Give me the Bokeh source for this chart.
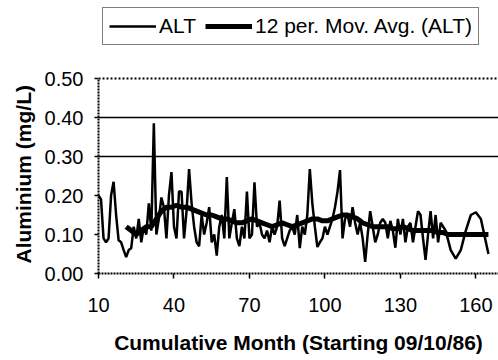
from bokeh.plotting import figure
from bokeh.models import Legend, LegendItem, Span, FixedTicker, NumeralTickFormatter, Range1d, Title
from bokeh.embed import file_html
from bokeh.resources import INLINE

# ALT monthly aluminium values (mg/L)
alt_month = list(range(10, 148)) + [148, 150, 152, 154, 156, 158, 160, 162, 164, 165]
alt_value = [
    0.20, 0.19, 0.09, 0.08, 0.09, 0.20, 0.235, 0.15, 0.085, 0.08,   # 10-19
    0.06, 0.042, 0.06, 0.065, 0.12, 0.09, 0.14, 0.08, 0.12, 0.10,   # 20-29
    0.18, 0.11, 0.385, 0.10, 0.14, 0.195, 0.17, 0.09, 0.20, 0.26,   # 30-39
    0.12, 0.09, 0.21, 0.21, 0.09, 0.16, 0.268, 0.18, 0.12, 0.08,    # 40-49
    0.07, 0.15, 0.10, 0.13, 0.17, 0.08, 0.10, 0.046, 0.12, 0.15,    # 50-59
    0.09, 0.247, 0.09, 0.13, 0.165, 0.09, 0.07, 0.12, 0.09, 0.21,   # 60-69
    0.09, 0.10, 0.234, 0.12, 0.13, 0.10, 0.09, 0.11, 0.08, 0.12,    # 70-79
    0.10, 0.12, 0.187, 0.09, 0.07, 0.09, 0.11, 0.12, 0.10, 0.15,    # 80-89
    0.065, 0.12, 0.10, 0.15, 0.268, 0.18, 0.12, 0.068, 0.08, 0.09,  # 90-99
    0.12, 0.10, 0.12, 0.14, 0.17, 0.21, 0.265, 0.09, 0.14, 0.15,    # 100-109
    0.12, 0.17, 0.13, 0.10, 0.13, 0.09, 0.03, 0.10, 0.16, 0.12,     # 110-119
    0.08, 0.10, 0.13, 0.14, 0.13, 0.09, 0.135, 0.11, 0.066, 0.14,   # 120-129
    0.10, 0.14, 0.08, 0.12, 0.13, 0.08, 0.12, 0.16, 0.15, 0.09,     # 130-139
    0.035, 0.10, 0.16, 0.09, 0.15, 0.08, 0.13, 0.12,                # 140-147
    0.11, 0.06, 0.038, 0.06, 0.11, 0.15, 0.157, 0.14, 0.08, 0.05,   # 148-165
]

# 12 period moving average
ma_month = list(range(21, 166, 2))
ma_value = [
    0.12, 0.11, 0.10, 0.11, 0.12, 0.12, 0.14, 0.16, 0.17, 0.17,
    0.175, 0.17, 0.17, 0.165, 0.16, 0.155, 0.15, 0.15, 0.145, 0.14,
    0.14, 0.135, 0.13, 0.13, 0.135, 0.14, 0.135, 0.13, 0.125, 0.12,
    0.125, 0.13, 0.125, 0.12, 0.125, 0.13, 0.135, 0.14, 0.14, 0.135,
    0.135, 0.14, 0.145, 0.15, 0.15, 0.145, 0.14, 0.13, 0.125, 0.12,
    0.12, 0.12, 0.12, 0.115, 0.115, 0.12, 0.115, 0.11, 0.11, 0.11,
    0.11, 0.11, 0.105, 0.105, 0.10, 0.10, 0.10, 0.10, 0.10, 0.10,
    0.10, 0.10, 0.10,
]

x_ticks = [10, 40, 70, 100, 130, 160]
y_ticks = [0.0, 0.1, 0.2, 0.3, 0.4, 0.5]
grid_levels = [0.3, 0.4]
top_level = 0.5

FONT = "Liberation Sans"

# frame reaches up to the top of the page so the legend can sit above the 0.50 line
p = figure(width=498, height=360, output_backend="svg", toolbar_location=None,
           x_range=Range1d(10, 169), y_range=Range1d(0, 0.7),
           min_border_left=98, min_border_right=0, min_border_top=0, min_border_bottom=87)
p.outline_line_color = None
p.background_fill_color = "white"
p.border_fill_color = "white"

p.xgrid.visible = False
p.ygrid.ticker = FixedTicker(ticks=grid_levels)
p.ygrid.grid_line_color = "black"
p.ygrid.grid_line_width = 1.5

p.add_layout(Span(location=top_level, dimension="width", line_color="black",
                  line_width=2, line_dash="2 2"))

r_alt = p.line(alt_month, alt_value, line_color="black", line_width=2.5)
r_ma = p.line(ma_month, ma_value, line_color="black", line_width=5)

# axes
p.xaxis.ticker = FixedTicker(ticks=x_ticks)
p.yaxis.ticker = FixedTicker(ticks=y_ticks)
p.yaxis.bounds = (0, top_level)
p.yaxis.formatter = NumeralTickFormatter(format="0.00")
for ax in (p.xaxis, p.yaxis):
    ax.axis_line_color = "black"
    ax.axis_line_width = 2
    ax.axis_line_dash = "2 1"
    ax.major_tick_line_color = "black"
    ax.major_tick_line_width = 1.5
    ax.major_tick_in = 0
    ax.minor_tick_line_color = None
    ax.major_label_text_font = FONT
    ax.major_label_text_font_size = "20px"
    ax.major_label_text_color = "black"
    ax.axis_label_text_font = FONT
    ax.axis_label_text_font_size = "21px"
    ax.axis_label_text_font_style = "bold"
    ax.axis_label_text_color = "black"

p.xaxis.major_tick_out = 5
p.yaxis.major_tick_out = 4
p.xaxis.major_label_standoff = 19
p.yaxis.major_label_standoff = 11
p.xaxis.axis_label = "Cumulative Month (Starting 09/10/86)"
p.xaxis.axis_label_standoff = 16

# y label as a side title, aligned to the 0..0.50 part of the axis
ylab = Title(text="Aluminium (mg/L)", align="left", offset=10, standoff=14,
             text_font=FONT, text_font_size="21px", text_font_style="bold",
             text_color="black")
p.add_layout(ylab, "left")

legend = Legend(items=[LegendItem(label="ALT", renderers=[r_alt]),
                       LegendItem(label="12 per. Mov. Avg. (ALT)", renderers=[r_ma])],
                orientation="horizontal", location=(4, 228))
legend.label_text_font = FONT
legend.label_text_font_size = "21px"
legend.label_text_color = "black"
legend.border_line_color = "black"
legend.border_line_width = 1.5
legend.padding = 6
legend.margin = 0
legend.spacing = 9
legend.label_standoff = 3
legend.glyph_width = 47
legend.glyph_height = 20
legend.label_height = 20
legend.background_fill_alpha = 1
p.add_layout(legend, "center")

open("out.html", "w").write(file_html(p, INLINE))
